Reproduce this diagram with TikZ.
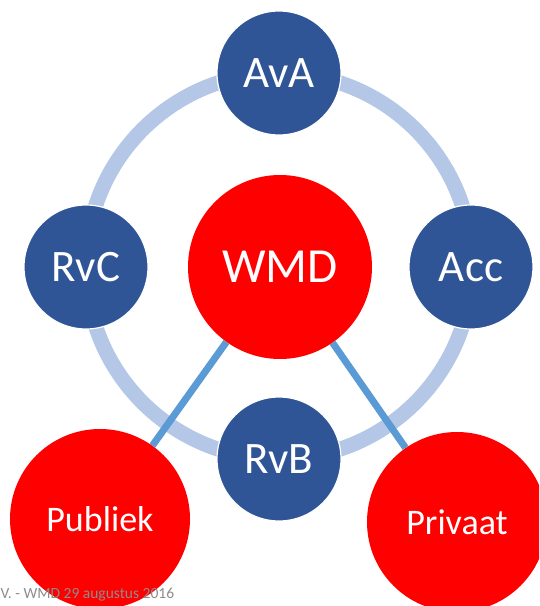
\documentclass[tikz,border=0pt]{standalone}
\usepackage{fontspec}
\setmainfont{Carlito}
\usetikzlibrary{positioning}
\definecolor{rolblue}{HTML}{2F5597}
\definecolor{ringblue}{HTML}{B4C7E7}
\definecolor{linkblue}{HTML}{5B9BD5}
\definecolor{footgray}{HTML}{8C8C8C}
\pgfdeclarelayer{ringlayer}
\pgfdeclarelayer{linklayer}
\pgfsetlayers{ringlayer,linklayer,main}

\begin{document}
\begin{tikzpicture}[x=1pt, y=-1pt,
	role/.style={circle, draw=white, line width=1.2pt, fill=rolblue,
		text=white, minimum size=124pt, inner sep=0pt,
		font=\fontsize{45}{45}\selectfont},
	party/.style={circle, fill=red, text=white, minimum size=180pt,
		inner sep=0pt, font=\fontsize{36}{36}\selectfont},
	ring/.style={draw=ringblue, line width=15pt},
	link/.style={draw=linkblue, line width=7pt}]
	\clip (0,0) rectangle (539,606);
	\coordinate (ctr) at (279,266);
	%% Centre and parties
	\node [party, minimum size=184pt, font=\fontsize{49}{49}\selectfont] (WMD) at (280,267) {WMD};
	\node [party] (Publiek) at (100,519) {Publiek};
	\node [party] (Privaat) at (457,522) {Privaat};
	%% Roles on the ring
	\node [role] (AvA) at (279,73) {AvA};
	\node [role] (RvC) at (86,267) {RvC};
	\node [role] (Acc) at (471,267) {Acc};
	\node [role] (RvB) at (279,459) {RvB};
	%% Ring
	\begin{pgfonlayer}{ringlayer}
		\path [ring] (ctr) circle [radius=193];
	\end{pgfonlayer}
	%% Links
	\begin{pgfonlayer}{linklayer}
		\path [link] (WMD) -- (Publiek);
		\path [link] (WMD) -- (Privaat);
	\end{pgfonlayer}
	%% Footer
	\node [anchor=base west, inner sep=0pt, text=footgray,
		font=\fontsize{15.5}{15.5}\selectfont] (foot) at (0.5,598) {V. - WMD 29 augustus 2016};
\end{tikzpicture}
\end{document}
